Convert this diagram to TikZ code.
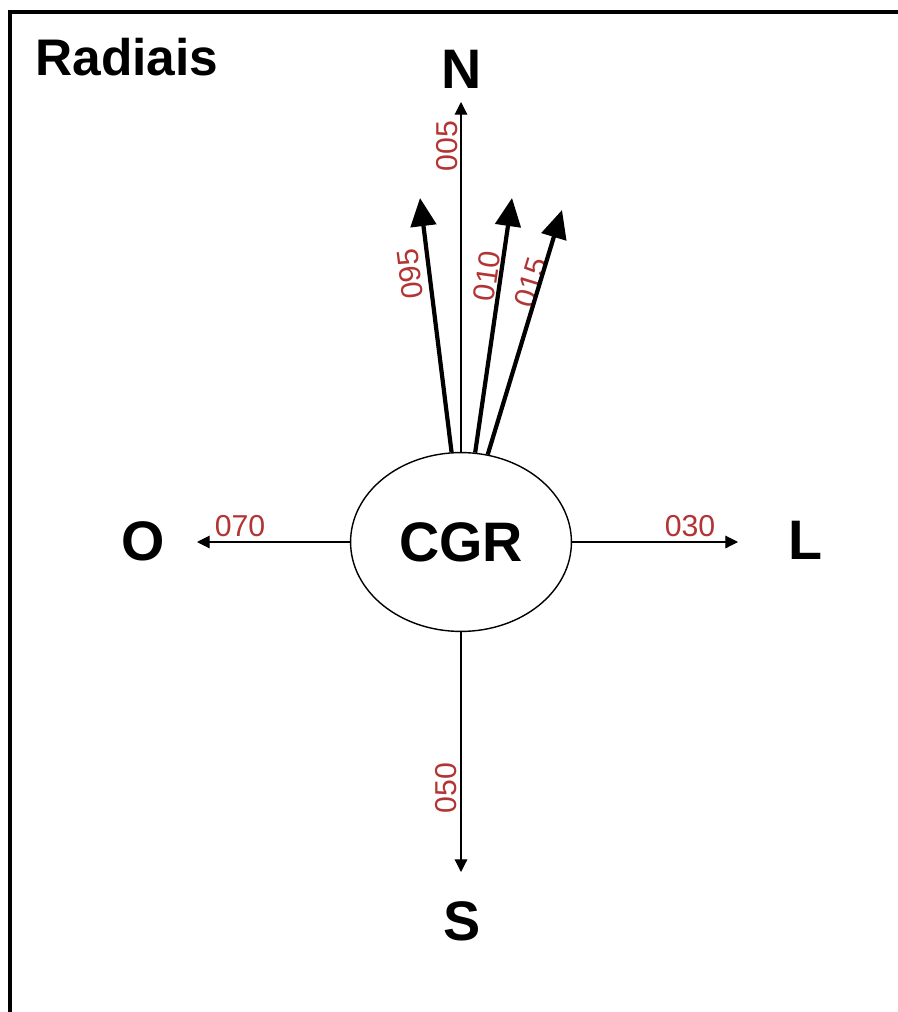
\documentclass[tikz,border=0pt]{standalone}
\usepackage{fontspec}
\setmainfont{Liberation Sans}
\usepackage{xcolor}
\usetikzlibrary{arrows.meta,shapes.geometric}
\definecolor{radred}{RGB}{178,52,52}

\begin{document}
\begin{tikzpicture}[x=0.025cm,y=-0.025cm,
pole/.style={font=\fontsize{39.6}{40}\selectfont\bfseries},
lbl/.style={text=radred,font=\fontsize{21.5}{22}\selectfont,inner sep=0pt},
axisarrow/.style={line width=0.8pt,-{Triangle[length=9pt,width=9pt]}},
radarrow/.style={line width=3pt,-{Triangle[length=20pt,width=18pt]}}]
\useasboundingbox (0,0) rectangle (898,1012);
\draw[line width=2.2pt] (10,1012)--(10,12)--(898,12);

\node[pole,font=\fontsize{36.6}{37}\selectfont\bfseries] (titulo) at (127,57) {Radiais};

\node[pole,draw,ellipse,line width=1pt,inner sep=0pt,
minimum width=5.52cm,minimum height=4.47cm] (cgr) at (461,542) {CGR};

\node[pole] (nN) at (462,69) {N};
\node[pole] (nO) at (143,541) {O};
\node[pole] (nL) at (805,540) {L};
\node[pole] (nS) at (462,921) {S};

\coordinate (pN) at (461,102);
\coordinate (pS) at (461,872);
\coordinate (pO) at (197,542);
\coordinate (pL) at (738,542);

\coordinate (t095) at (420,198);
\coordinate (t010) at (512,198);
\coordinate (t015) at (562,210);

% radiais
\node[lbl,rotate=90] (r005) at (447,146) {005};
\node[lbl,rotate=97] (r095) at (410,274) {095};
\node[lbl,rotate=82] (r010) at (487,276) {010};
\node[lbl,rotate=73] (r015) at (531,282) {015};
\node[lbl] (r070) at (240,526) {070};
\node[lbl] (r030) at (690,526) {030};
\node[lbl,rotate=90] (r050) at (446,788) {050};

\draw[axisarrow] (cgr.north) -- (pN);
\draw[axisarrow] (cgr.south) -- (pS);
\draw[axisarrow] (cgr.west) -- (pO);
\draw[axisarrow] (cgr.east) -- (pL);

\draw[radarrow] (cgr.96) -- (t095);
\draw[radarrow] (cgr.81) -- (t010);
\draw[radarrow] (cgr.73) -- (t015);
\end{tikzpicture}
\end{document}
